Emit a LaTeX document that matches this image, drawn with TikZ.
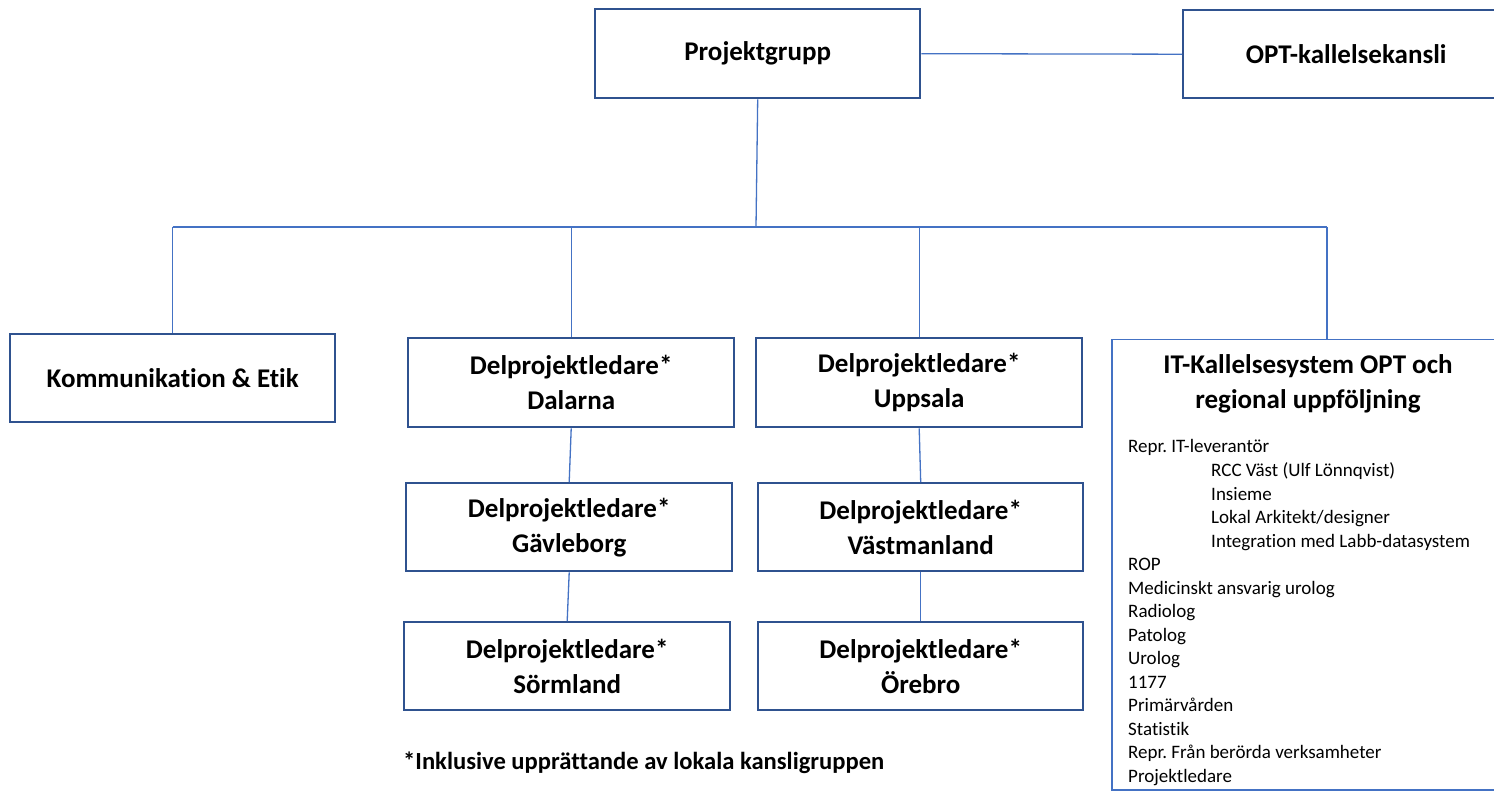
\documentclass[tikz,border=0pt]{standalone}
\usepackage{fontspec}
\setmainfont{Carlito}[Ligatures={NoCommon}]
\frenchspacing
\definecolor{boxblue}{HTML}{2F528F}
\definecolor{lineblue}{HTML}{4472C4}
\tikzset{
  orgbox/.style={draw=boxblue, line width=2.4pt, fill=white, rectangle, anchor=north west,
    inner sep=0pt, align=center, font=\fontsize{27}{35}\selectfont\bfseries},
  itbox/.style={draw=lineblue, line width=1.5pt, fill=white, rectangle, anchor=north west, inner sep=0pt},
  conn/.style={draw=lineblue, line width=1.3pt},
  listtext/.style={anchor=base west, inner sep=0pt, font=\fontsize{19}{23.5}\selectfont}
}
\begin{document}
\begin{tikzpicture}[x=1pt,y=-1pt]
\useasboundingbox (0,0) rectangle (1494,791);
\clip (0,0) rectangle (1494,791);
\fill[white] (0,0) rectangle (1494,791);

% boxes
\node[orgbox, minimum width=325pt, minimum height=89pt] (PG) at (594,8) {Projektgrupp};
\node[orgbox, minimum width=326pt, minimum height=88pt] (OPT) at (1182,9) {OPT-kallelsekansli};
\node[orgbox, minimum width=325pt, minimum height=88pt] (KE) at (9,333) {Kommunikation \& Etik};
\node[orgbox, minimum width=326pt, minimum height=89pt] (DA) at (407,337) {Delprojektledare*\\Dalarna};
\node[orgbox, minimum width=326pt, minimum height=89pt] (UP) at (755,337) {Delprojektledare*\\Uppsala};
\node[orgbox, minimum width=326pt, minimum height=88pt] (GA) at (405,482) {Delprojektledare*\\Gävleborg};
\node[orgbox, minimum width=326pt, minimum height=88pt] (SO) at (403,621) {Delprojektledare*\\Sörmland};
\node[orgbox, minimum width=325pt, minimum height=88pt] (VA) at (757,482) {Delprojektledare*\\Västmanland};
\node[orgbox, minimum width=325pt, minimum height=88pt] (OR) at (757,621) {Delprojektledare*\\Örebro};
\node[itbox, minimum width=395pt, minimum height=450pt] (IT) at (1111,339) {};

% IT box contents
\node[inner sep=0pt, align=center, font=\fontsize{27}{35}\selectfont\bfseries] (ITtitle) at (1308,384)
  {IT-Kallelsesystem OPT och\\regional uppföljning};
\foreach \dx/\t [count=\i from 0] in {
  0/{Repr. IT-leverantör},
  83/{RCC Väst (Ulf Lönnqvist)},
  83/{Insieme},
  83/{Lokal Arkitekt/designer},
  83/{Integration med Labb-datasystem},
  0/{ROP},
  0/{Medicinskt ansvarig urolog},
  0/{Radiolog},
  0/{Patolog},
  0/{Urolog},
  0/{1177},
  0/{Primärvården},
  0/{Statistik},
  0/{Repr. Från berörda verksamheter},
  0/{Projektledare}}
  \node[listtext] (it\i) at (1128+\dx, 453+23.5*\i) {\t};

% footnote
\node[anchor=base west, inner sep=0pt, font=\fontsize{24.6}{29}\selectfont\bfseries] (foot) at (403,769)
  {*Inklusive upprättande av lokala kansligruppen};

% connectors
\coordinate (bus) at (756,227);
\coordinate (itjoin) at (1327,227);
\draw[conn] (PG.east) -- (OPT.west);
\draw[conn] (PG.south) -- (bus);
\draw[conn] (KE.north |- bus) -- (itjoin);
\draw[conn] (KE.north |- bus) -- (KE.north);
\draw[conn] (DA.north |- bus) -- (DA.north);
\draw[conn] (UP.north |- bus) -- (UP.north);
\draw[conn] (itjoin) -- (itjoin |- IT.north);
\draw[conn] (DA.south) -- (GA.north);
\draw[conn] (GA.south) -- (SO.north);
\draw[conn] (UP.south) -- (VA.north);
\draw[conn] (VA.south) -- (OR.north);
\end{tikzpicture}
\end{document}
